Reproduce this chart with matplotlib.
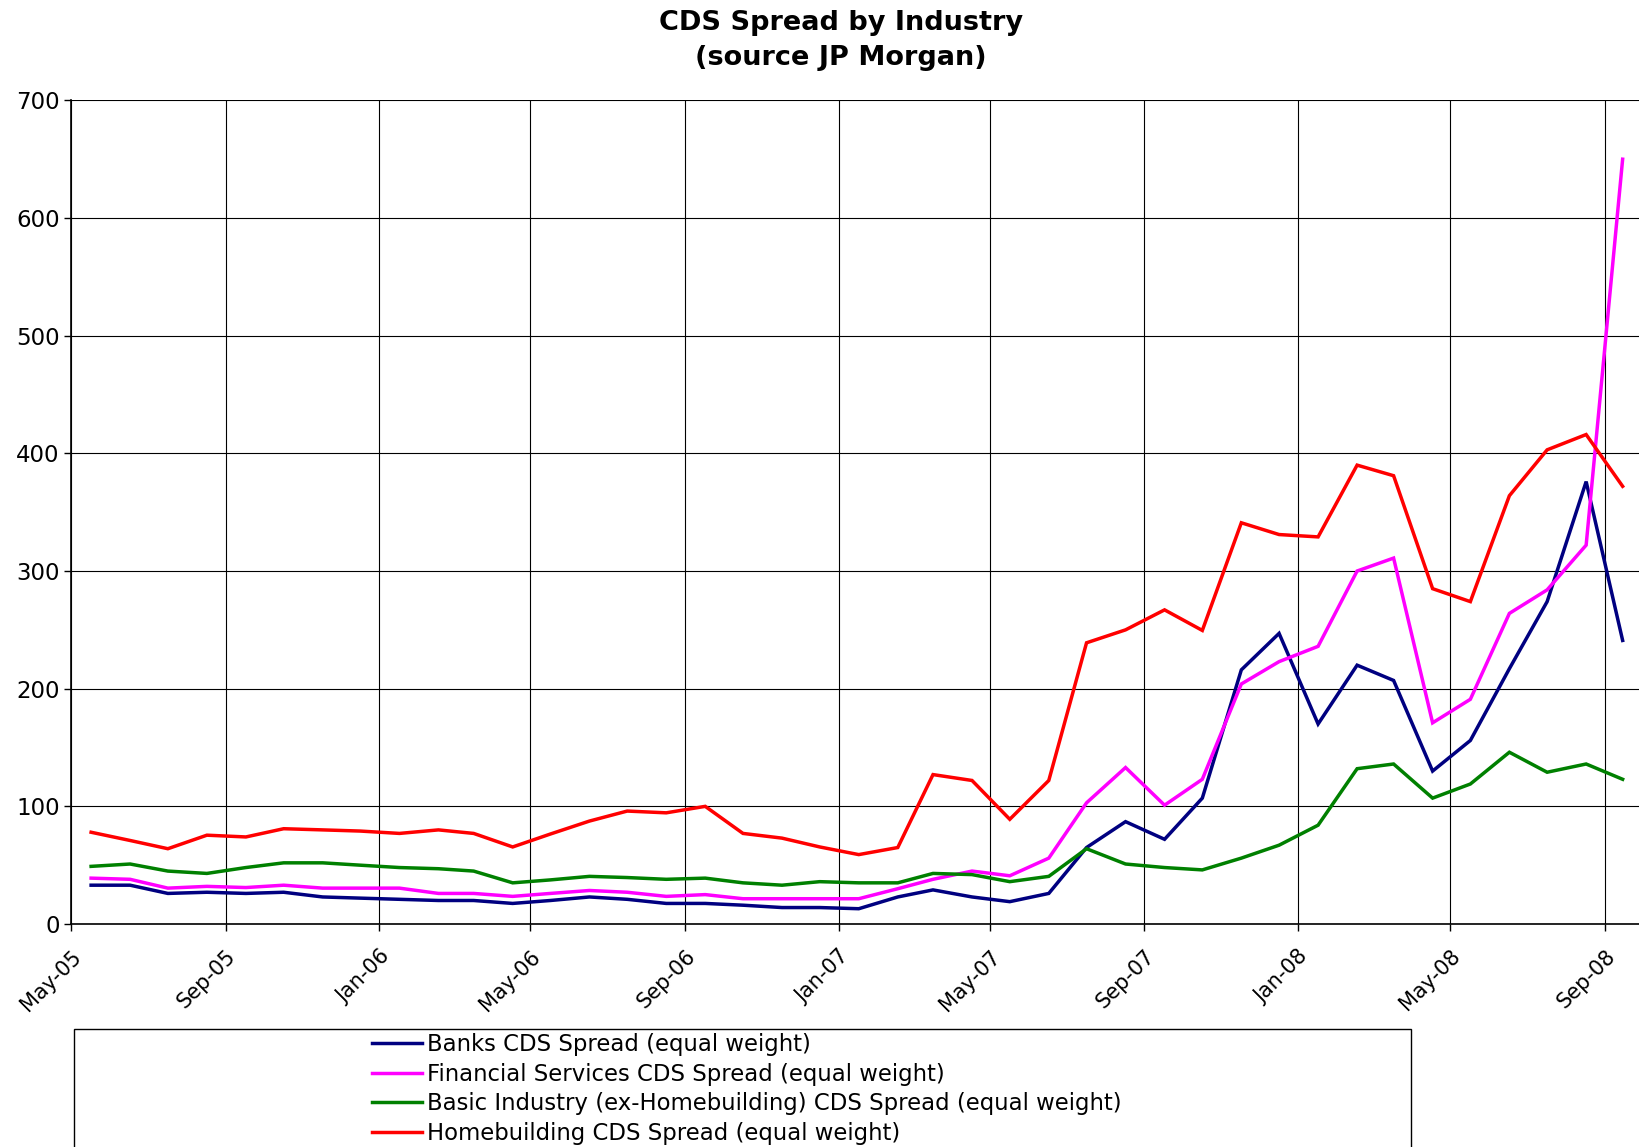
import matplotlib
matplotlib.use("Agg")
import matplotlib.pyplot as plt
import matplotlib.dates as mdates
from matplotlib.patches import Rectangle
import pandas as pd

plt.rcParams['font.family'] = ['DejaVu Sans']

dates = ["2005-05-17", "2005-06-17", "2005-07-17", "2005-08-17", "2005-09-17", "2005-10-17",
         "2005-11-17", "2005-12-17", "2006-01-17", "2006-02-17", "2006-03-17", "2006-04-17",
         "2006-05-17", "2006-06-17", "2006-07-17", "2006-08-17", "2006-09-17", "2006-10-17",
         "2006-11-17", "2006-12-17", "2007-01-17", "2007-02-17", "2007-03-17", "2007-04-17",
         "2007-05-17", "2007-06-17", "2007-07-17", "2007-08-17", "2007-09-17", "2007-10-17",
         "2007-11-17", "2007-12-17", "2008-01-17", "2008-02-17", "2008-03-17", "2008-04-17",
         "2008-05-17", "2008-06-17", "2008-07-17", "2008-08-17", "2008-09-15"]

banks = [33, 33, 26, 27, 26, 27, 23, 22, 21, 20, 20, 17.5, 20, 23, 21, 17.5, 17.5, 16, 14, 14,
         13, 23, 29, 23, 19, 26, 65, 87, 72, 107, 216, 247, 170, 220, 207, 130, 156, 217, 274,
         376, 241]
financial = [39, 38, 30.5, 32, 31, 33, 30.5, 30.5, 30.5, 26, 26, 23.5, 26, 28.5, 27, 23.5, 25,
             21.5, 21.5, 21.5, 21.5, 30, 38, 45, 41, 56, 103, 133, 101, 123, 204, 223, 236, 300,
             311, 171, 191, 264, 284, 322, 650]
basic = [49, 51, 45, 43, 48, 52, 52, 50, 48, 47, 45, 35, 37.5, 40.5, 39.5, 38, 39, 35, 33, 36,
         35, 35, 43, 42, 36, 40.5, 64, 51, 48, 46, 56, 67, 84, 132, 136, 107, 119, 146, 129,
         136, 123]
homebuilding = [78, 71, 64, 75.5, 74, 81, 80, 79, 77, 80, 77, 65.5, 76.5, 87.5, 96, 94.5, 100,
                77, 73, 65.5, 59, 65, 127, 122, 89, 122, 239, 250, 267, 249.5, 341, 331, 329, 390,
                381, 285, 274, 364, 403, 416, 372]

series_names = ["Banks CDS Spread (equal weight)",
                "Financial Services CDS Spread (equal weight)",
                "Basic Industry (ex-Homebuilding) CDS Spread (equal weight)",
                "Homebuilding CDS Spread (equal weight)"]
series_colors = ["#000080", "#FF00FF", "#008000", "#FF0000"]

x = pd.to_datetime(dates)

fig = plt.figure(figsize=(16.39, 11.47), dpi=100)
ax = fig.add_axes([0.0433, 0.1944, 0.9567, 0.7181])

lines = []
for vals, name, col in zip([banks, financial, basic, homebuilding], series_names, series_colors):
    ln, = ax.plot(x, vals, color=col, lw=2.5, label=name, solid_joinstyle='miter')
    lines.append(ln)

ax.set_ylim(0, 700)
ax.set_yticks(range(0, 701, 100))
ax.set_xlim(pd.Timestamp("2005-05-01"), pd.Timestamp("2008-09-28"))
ax.xaxis.set_major_locator(mdates.MonthLocator(bymonth=[1, 5, 9]))
ax.xaxis.set_major_formatter(mdates.DateFormatter("%b-%y"))
ax.grid(True, color='black', lw=0.8)
ax.set_axisbelow(True)
for lab in ax.get_xticklabels():
    lab.set_rotation(45)
    lab.set_ha('right')
    lab.set_rotation_mode('anchor')
ax.tick_params(axis='both', direction='out', length=5, width=1, colors='black')
ax.tick_params(axis='x', labelsize=15, pad=11)
ax.tick_params(axis='y', labelsize=16.5, pad=3)
for s in ['top', 'right']:
    ax.spines[s].set_visible(False)
for s in ['left', 'bottom']:
    ax.spines[s].set_linewidth(1.2)

fig.text(0.513, 0.991, "CDS Spread by Industry\n(source JP Morgan)", ha='center', va='top',
         fontsize=19.5, fontweight='bold', linespacing=1.42)

rect = Rectangle((0.045, -0.05), 0.816, 0.1529, transform=fig.transFigure, fill=False,
                 edgecolor='black', lw=1.0)
fig.add_artist(rect)
fig.legend(handles=lines, loc='upper left', bbox_to_anchor=(0.2268, 0.0992), frameon=False,
           fontsize=16.4, handlelength=2.2, handletextpad=0.22, labelspacing=0.285,
           borderaxespad=0, borderpad=0)

fig.savefig("out.png", dpi=100)
